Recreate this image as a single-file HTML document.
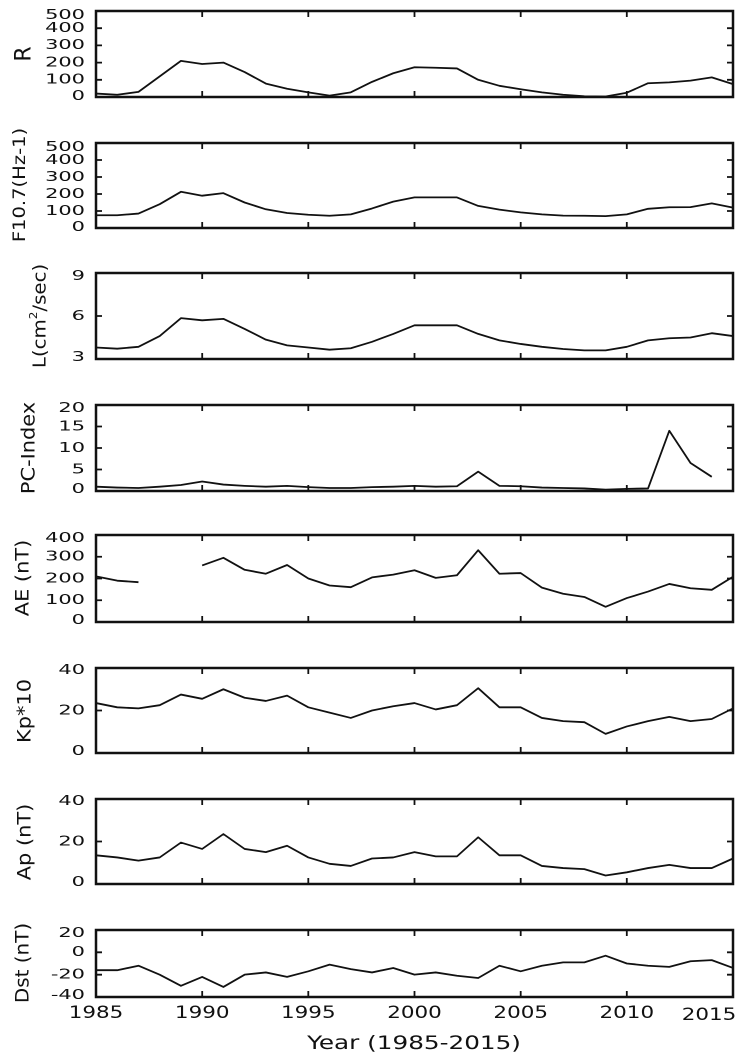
<!DOCTYPE html>
<html><head><meta charset="utf-8"><style>
html,body{margin:0;padding:0;background:#fff;}
svg{display:block;}
text{font-family:"DejaVu Sans","Liberation Sans",sans-serif;fill:#111;}
.yt{font-size:13.5px;text-anchor:end;dominant-baseline:central;}
.xt{font-size:16.5px;text-anchor:middle;}
.yl{font-size:18px;text-anchor:middle;}
.ln{fill:none;stroke:#111;stroke-width:1.8;vector-effect:non-scaling-stroke;stroke-linejoin:round;}
.fr{fill:none;stroke:#111;stroke-width:2.5;}
.tk{stroke:#111;stroke-width:1.8;}
</style></head><body>
<svg width="745" height="1060" viewBox="0 0 745 1060" xmlns="http://www.w3.org/2000/svg">

<!-- Panel R -->
<rect class="fr" x="96" y="11" width="637" height="86"/>
<path class="tk" d="M96 79.8h6M96 62.6h6M96 45.4h6M96 28.2h6M733 79.8h-6M733 62.6h-6M733 45.4h-6M733 28.2h-6M202.2 11v6M308.3 11v6M414.5 11v6M520.7 11v6M626.8 11v6M202.2 97v-6M308.3 97v-6M414.5 97v-6M520.7 97v-6M626.8 97v-6"/>
<g transform="translate(85,0) scale(1.55,1)">
<text class="yt" x="0" y="96">0</text><text class="yt" x="0" y="79.8">100</text><text class="yt" x="0" y="62.6">200</text><text class="yt" x="0" y="45.4">300</text><text class="yt" x="0" y="28.2">400</text><text class="yt" x="0" y="15">500</text>
</g>
<text class="yl" style="font-size:22px" transform="translate(24,54) rotate(-90)" dominant-baseline="central">R</text>
<g transform="translate(96,97) scale(21.233,-0.172)">
<polyline class="ln" points="0,20 1,13 2,30 3,120 4,210 5,192 6,200 7,145 8,78 9,48 10,27 11,8 12,27 13,88 14,138 15,173 16,170 17,166 18,100 19,65 20,45 21,27 22,13 23,4 24,3 25,25 26,80 27,85 28,95 29,114 30,75"/>
</g>

<!-- Panel F10.7 -->
<rect class="fr" x="96" y="143" width="637" height="85"/>
<path class="tk" d="M96 211h6M96 194h6M96 177h6M96 160h6M733 211h-6M733 194h-6M733 177h-6M733 160h-6M202.2 143v6M308.3 143v6M414.5 143v6M520.7 143v6M626.8 143v6M202.2 228v-6M308.3 228v-6M414.5 228v-6M520.7 228v-6M626.8 228v-6"/>
<g transform="translate(85,0) scale(1.55,1)">
<text class="yt" x="0" y="227">0</text><text class="yt" x="0" y="211">100</text><text class="yt" x="0" y="194">200</text><text class="yt" x="0" y="177">300</text><text class="yt" x="0" y="160">400</text><text class="yt" x="0" y="147">500</text>
</g>
<text class="yl" style="font-size:17px" transform="translate(20,185) rotate(-90) scale(1.15,1)" dominant-baseline="central">F10.7(Hz-1)</text>
<g transform="translate(96,228) scale(21.233,-0.17)">
<polyline class="ln" points="0,75 1,75 2,85 3,140 4,213 5,190 6,205 7,150 8,110 9,88 10,78 11,72 12,80 13,115 14,155 15,180 16,180 17,180 18,130 19,108 20,92 21,80 22,73 23,72 24,70 25,80 26,113 27,122 28,123 29,145 30,120"/>
</g>

<!-- Panel L -->
<rect class="fr" x="96" y="273" width="637" height="86"/>
<path class="tk" d="M96 316h6M733 316h-6M202.2 273v6M308.3 273v6M414.5 273v6M520.7 273v6M626.8 273v6M202.2 359v-6M308.3 359v-6M414.5 359v-6M520.7 359v-6M626.8 359v-6"/>
<g transform="translate(85,0) scale(1.55,1)">
<text class="yt" x="0" y="357">3</text><text class="yt" x="0" y="316">6</text><text class="yt" x="0" y="276">9</text>
</g>
<text class="yl" transform="translate(40,316) rotate(-90) scale(1.1,1)" dominant-baseline="central">L(cm<tspan font-size="11" dy="-7">2</tspan><tspan dy="7">/sec)</tspan></text>
<g transform="translate(96,359) scale(21.233,-14.333) translate(0,-3)">
<polyline class="ln" points="0,3.8 1,3.72 2,3.85 3,4.6 4,5.85 5,5.7 6,5.8 7,5.1 8,4.35 9,3.95 10,3.8 11,3.65 12,3.75 13,4.2 14,4.75 15,5.35 16,5.35 17,5.35 18,4.75 19,4.3 20,4.05 21,3.85 22,3.7 23,3.6 24,3.6 25,3.85 26,4.3 27,4.45 28,4.5 29,4.8 30,4.6"/>
</g>

<!-- Panel PC -->
<rect class="fr" x="96" y="405" width="637" height="86"/>
<path class="tk" d="M96 469.5h6M96 448h6M96 426.5h6M733 469.5h-6M733 448h-6M733 426.5h-6M202.2 405v6M308.3 405v6M414.5 405v6M520.7 405v6M626.8 405v6M202.2 491v-6M308.3 491v-6M414.5 491v-6M520.7 491v-6M626.8 491v-6"/>
<g transform="translate(85,0) scale(1.55,1)">
<text class="yt" x="0" y="489">0</text><text class="yt" x="0" y="469.5">5</text><text class="yt" x="0" y="448">10</text><text class="yt" x="0" y="426.5">15</text><text class="yt" x="0" y="408">20</text>
</g>
<text class="yl" style="font-size:19px" transform="translate(28,448) rotate(-90) scale(1.1,1)" dominant-baseline="central">PC-Index</text>
<g transform="translate(96,491) scale(21.233,-4.3)">
<polyline class="ln" points="0,1 1,0.8 2,0.7 3,1 4,1.4 5,2.2 6,1.5 7,1.2 8,1 9,1.2 10,0.9 11,0.7 12,0.7 13,0.9 14,1 15,1.2 16,1 17,1.1 18,4.5 19,1.2 20,1.1 21,0.8 22,0.7 23,0.6 24,0.3 25,0.5 26,0.6 27,14 28,6.5 29,3.3"/>
</g>

<!-- Panel AE -->
<rect class="fr" x="96" y="535" width="637" height="87"/>
<path class="tk" d="M96 600.25h6M96 578.5h6M96 556.75h6M733 600.25h-6M733 578.5h-6M733 556.75h-6M202.2 535v6M308.3 535v6M414.5 535v6M520.7 535v6M626.8 535v6M202.2 622v-6M308.3 622v-6M414.5 622v-6M520.7 622v-6M626.8 622v-6"/>
<g transform="translate(85,0) scale(1.55,1)">
<text class="yt" x="0" y="620">0</text><text class="yt" x="0" y="600.25">100</text><text class="yt" x="0" y="578.5">200</text><text class="yt" x="0" y="556.75">300</text><text class="yt" x="0" y="538">400</text>
</g>
<text class="yl" style="font-size:19px" transform="translate(22,578) rotate(-90) scale(1.1,1)" dominant-baseline="central">AE (nT)</text>
<g transform="translate(96,622) scale(21.233,-0.2175)">
<polyline class="ln" points="0,210 1,190 2,183"/>
<polyline class="ln" points="5,260 6,295 7,240 8,222 9,262 10,200 11,168 12,160 13,205 14,218 15,238 16,203 17,215 18,330 19,222 20,225 21,158 22,130 23,115 24,70 25,110 26,140 27,175 28,155 29,148 30,208"/>
</g>

<!-- Panel Kp -->
<rect class="fr" x="96" y="668" width="637" height="85"/>
<path class="tk" d="M96 710.5h6M733 710.5h-6M202.2 668v6M308.3 668v6M414.5 668v6M520.7 668v6M626.8 668v6M202.2 753v-6M308.3 753v-6M414.5 753v-6M520.7 753v-6M626.8 753v-6"/>
<g transform="translate(85,0) scale(1.55,1)">
<text class="yt" x="0" y="751">0</text><text class="yt" x="0" y="710.5">20</text><text class="yt" x="0" y="670">40</text>
</g>
<text class="yl" style="font-size:19px" transform="translate(24,711) rotate(-90) scale(1.1,1)" dominant-baseline="central">Kp*10</text>
<g transform="translate(96,753) scale(21.233,-2.125)">
<polyline class="ln" points="0,23.5 1,21.5 2,21 3,22.5 4,27.5 5,25.5 6,30 7,26 8,24.5 9,27 10,21.5 11,19 12,16.5 13,20 14,22 15,23.5 16,20.5 17,22.5 18,30.5 19,21.5 20,21.5 21,16.5 22,15 23,14.5 24,9 25,12.5 26,15 27,17 28,15 29,16 30,21"/>
</g>

<!-- Panel Ap -->
<rect class="fr" x="96" y="799" width="637" height="85"/>
<path class="tk" d="M96 841.5h6M733 841.5h-6M202.2 799v6M308.3 799v6M414.5 799v6M520.7 799v6M626.8 799v6M202.2 884v-6M308.3 884v-6M414.5 884v-6M520.7 884v-6M626.8 884v-6"/>
<g transform="translate(85,0) scale(1.55,1)">
<text class="yt" x="0" y="882">0</text><text class="yt" x="0" y="841.5">20</text><text class="yt" x="0" y="801">40</text>
</g>
<text class="yl" style="font-size:19px" transform="translate(24,842) rotate(-90) scale(1.1,1)" dominant-baseline="central">Ap (nT)</text>
<g transform="translate(96,884) scale(21.233,-2.125)">
<polyline class="ln" points="0,13.5 1,12.5 2,11 3,12.5 4,19.5 5,16.5 6,23.5 7,16.5 8,15 9,18 10,12.5 11,9.5 12,8.5 13,12 14,12.5 15,15 16,13 17,13 18,22 19,13.5 20,13.5 21,8.5 22,7.5 23,7 24,4 25,5.5 26,7.5 27,9 28,7.5 29,7.5 30,12"/>
</g>

<!-- Panel Dst -->
<rect class="fr" x="96" y="930" width="637" height="67"/>
<path class="tk" d="M96 952.3h6M96 974.7h6M733 952.3h-6M733 974.7h-6M202.2 930v6M308.3 930v6M414.5 930v6M520.7 930v6M626.8 930v6M202.2 997v-6M308.3 997v-6M414.5 997v-6M520.7 997v-6M626.8 997v-6"/>
<g transform="translate(85,0) scale(1.55,1)">
<text class="yt" x="0" y="933">20</text><text class="yt" x="0" y="952.3">0</text><text class="yt" x="0" y="974.7">-20</text><text class="yt" x="0" y="995">-40</text>
</g>
<text class="yl" style="font-size:19px" transform="translate(22,963) rotate(-90) scale(1.05,1)" dominant-baseline="central">Dst (nT)</text>
<g transform="translate(96,997) scale(21.233,-1.1167) translate(0,40)">
<polyline class="ln" points="0,-16 1,-16 2,-12 3,-20 4,-30 5,-22 6,-31 7,-20 8,-18 9,-22 10,-17 11,-11 12,-15 13,-18 14,-14 15,-20 16,-18 17,-21 18,-23 19,-12 20,-17 21,-12 22,-9 23,-9 24,-3 25,-10 26,-12 27,-13 28,-8 29,-7 30,-14"/>
</g>

<text class="xt" transform="translate(96,1018) scale(1.3,1)">1985</text>
<text class="xt" transform="translate(202.2,1018) scale(1.3,1)">1990</text>
<text class="xt" transform="translate(308.3,1018) scale(1.3,1)">1995</text>
<text class="xt" transform="translate(414.5,1018) scale(1.3,1)">2000</text>
<text class="xt" transform="translate(520.7,1018) scale(1.3,1)">2005</text>
<text class="xt" transform="translate(626.8,1018) scale(1.3,1)">2010</text>
<text class="xt" transform="translate(709,1020) scale(1.3,1)">2015</text>
<text class="xt" style="font-size:19px" transform="translate(414,1049) scale(1.3,1)">Year (1985-2015)</text>
</svg>
</body></html>
